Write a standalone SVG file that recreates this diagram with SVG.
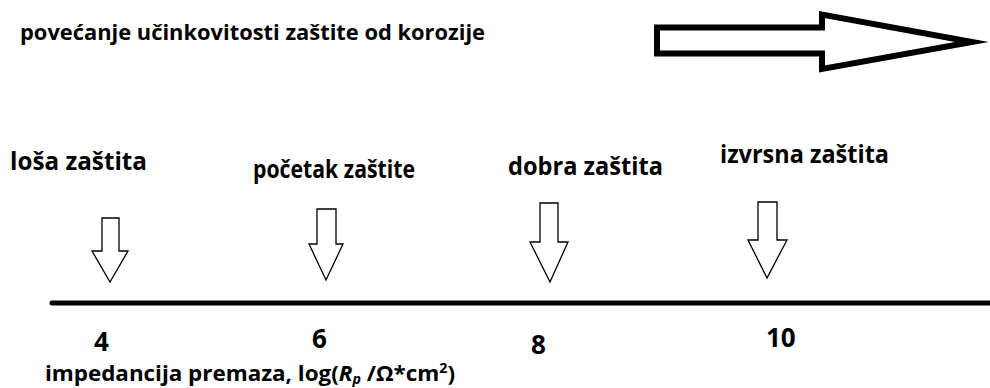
<svg xmlns="http://www.w3.org/2000/svg" width="990" height="388" viewBox="0 0 990 388">
<style>
  text { font-family: "Open Sans", "Liberation Sans", sans-serif; font-weight: bold; fill: #000; }
  .title { font-size: 22px; }
  .lbl { font-size: 25px; }
  .num { font-size: 26px; }
  .axis { font-size: 22px; }
  .small-arrow { fill: #fff; stroke: #000; stroke-width: 1.3; stroke-linejoin: miter; }
  .big-arrow { fill: #fff; stroke: #000; stroke-width: 6; stroke-linejoin: miter; stroke-miterlimit: 10; }
</style>
<rect width="990" height="388" fill="#fff"/>

<g id="title">
  <text class="title" x="20" y="40" textLength="465" lengthAdjust="spacingAndGlyphs">povećanje učinkovitosti zaštite od korozije</text>
</g>
<g id="big-arrow">
  <polygon class="big-arrow" points="657,27.5 822,27.5 822,14.5 972,42 822,69 822,53.5 657,53.5"/>
</g>

<g id="label-losa">
  <text class="lbl" x="10" y="170" textLength="137" lengthAdjust="spacingAndGlyphs">loša zaštita</text>
  <polygon class="small-arrow" points="102,218 119,218 119,251 128,251 110,282 92,251 102,251"/>
</g>
<g id="label-pocetak">
  <text class="lbl" x="253" y="178" textLength="162" lengthAdjust="spacingAndGlyphs">početak zaštite</text>
  <polygon class="small-arrow" points="317,209 336,209 336,244 343,244 326,280 309,244 317,244"/>
</g>
<g id="label-dobra">
  <text class="lbl" x="508" y="175" textLength="155" lengthAdjust="spacingAndGlyphs">dobra zaštita</text>
  <polygon class="small-arrow" points="540,203 558,203 558,242 568,242 550,282 530,242 540,242"/>
</g>
<g id="label-izvrsna">
  <text class="lbl" x="720" y="163" textLength="169" lengthAdjust="spacingAndGlyphs">izvrsna zaštita</text>
  <polygon class="small-arrow" points="758,202 777,202 777,240 787,240 767,278 748,240 758,240"/>
</g>

<g id="connectors">
  <line x1="52" y1="303" x2="992" y2="303" stroke="#000" stroke-width="5" stroke-linecap="round"/>
</g>

<g id="ticks">
  <text class="num" x="94" y="351">4</text>
  <text class="num" x="312" y="348">6</text>
  <text class="num" x="531" y="354">8</text>
  <text class="num" x="766" y="347">10</text>
</g>

<g id="axis-label">
  <text class="axis" x="45" y="381" textLength="410" lengthAdjust="spacingAndGlyphs">impedancija premaza, log(<tspan font-style="italic">R</tspan><tspan font-style="italic" font-size="14" dy="3">p</tspan><tspan dy="-3"> /Ω*cm</tspan><tspan font-size="14" dy="-8">2</tspan><tspan dy="8">)</tspan></text>
</g>
</svg>
